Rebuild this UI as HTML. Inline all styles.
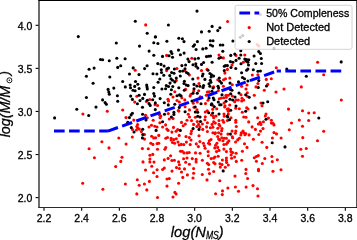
<!DOCTYPE html><html><head><meta charset="utf-8"><style>html,body{margin:0;padding:0;background:#fff;width:357px;height:240px;overflow:hidden}svg{display:block;will-change:transform}</style></head><body><svg width="357" height="240" viewBox="0 0 357 240"><rect width="357" height="240" fill="#fff"/><g fill="#ff0000"><circle cx="145.7" cy="24.9" r="1.55"/><circle cx="227.6" cy="21.5" r="1.55"/><circle cx="260.4" cy="14.6" r="1.55"/><circle cx="135.2" cy="70.3" r="1.55"/><circle cx="166.6" cy="55.4" r="1.55"/><circle cx="166.6" cy="70.6" r="1.55"/><circle cx="176.9" cy="68.5" r="1.55"/><circle cx="176.3" cy="80.6" r="1.55"/><circle cx="184.8" cy="70.6" r="1.55"/><circle cx="189.4" cy="75.0" r="1.55"/><circle cx="185.6" cy="89.4" r="1.55"/><circle cx="219.0" cy="55.1" r="1.55"/><circle cx="223.4" cy="57.9" r="1.55"/><circle cx="191.8" cy="58.3" r="1.55"/><circle cx="201.5" cy="70.6" r="1.55"/><circle cx="207.0" cy="69.4" r="1.55"/><circle cx="198.0" cy="78.1" r="1.55"/><circle cx="217.8" cy="79.8" r="1.55"/><circle cx="223.6" cy="79.8" r="1.55"/><circle cx="225.5" cy="78.8" r="1.55"/><circle cx="224.9" cy="73.1" r="1.55"/><circle cx="227.4" cy="69.4" r="1.55"/><circle cx="199.0" cy="83.5" r="1.55"/><circle cx="213.6" cy="86.9" r="1.55"/><circle cx="223.4" cy="86.3" r="1.55"/><circle cx="257.3" cy="44.5" r="1.55"/><circle cx="258.8" cy="46.0" r="1.55"/><circle cx="236.0" cy="55.4" r="1.55"/><circle cx="244.8" cy="55.0" r="1.55"/><circle cx="232.0" cy="65.0" r="1.55"/><circle cx="243.3" cy="62.3" r="1.55"/><circle cx="252.3" cy="75.0" r="1.55"/><circle cx="257.9" cy="74.8" r="1.55"/><circle cx="229.8" cy="78.1" r="1.55"/><circle cx="232.3" cy="84.8" r="1.55"/><circle cx="241.6" cy="86.3" r="1.55"/><circle cx="247.0" cy="85.0" r="1.55"/><circle cx="257.9" cy="83.5" r="1.55"/><circle cx="256.0" cy="86.9" r="1.55"/><circle cx="246.0" cy="89.0" r="1.55"/><circle cx="276.3" cy="67.8" r="1.55"/><circle cx="266.3" cy="79.4" r="1.55"/><circle cx="271.3" cy="78.8" r="1.55"/><circle cx="267.8" cy="84.4" r="1.55"/><circle cx="284.0" cy="89.0" r="1.55"/><circle cx="301.3" cy="86.9" r="1.55"/><circle cx="317.6" cy="62.2" r="1.55"/><circle cx="323.7" cy="74.7" r="1.55"/><circle cx="82.9" cy="114.0" r="1.55"/><circle cx="107.3" cy="111.3" r="1.55"/><circle cx="122.7" cy="110.0" r="1.55"/><circle cx="136.8" cy="96.3" r="1.55"/><circle cx="134.7" cy="102.1" r="1.55"/><circle cx="146.4" cy="101.5" r="1.55"/><circle cx="149.8" cy="99.5" r="1.55"/><circle cx="145.6" cy="115.2" r="1.55"/><circle cx="174.8" cy="91.8" r="1.55"/><circle cx="173.0" cy="97.0" r="1.55"/><circle cx="181.8" cy="97.8" r="1.55"/><circle cx="190.1" cy="96.1" r="1.55"/><circle cx="168.0" cy="99.3" r="1.55"/><circle cx="168.5" cy="100.9" r="1.55"/><circle cx="177.0" cy="100.5" r="1.55"/><circle cx="179.3" cy="102.0" r="1.55"/><circle cx="184.8" cy="99.9" r="1.55"/><circle cx="157.6" cy="105.5" r="1.55"/><circle cx="185.1" cy="106.8" r="1.55"/><circle cx="178.3" cy="110.5" r="1.55"/><circle cx="178.9" cy="111.1" r="1.55"/><circle cx="189.5" cy="109.9" r="1.55"/><circle cx="168.3" cy="113.6" r="1.55"/><circle cx="160.8" cy="116.1" r="1.55"/><circle cx="159.5" cy="114.9" r="1.55"/><circle cx="188.3" cy="114.3" r="1.55"/><circle cx="189.5" cy="117.0" r="1.55"/><circle cx="155.1" cy="104.8" r="1.55"/><circle cx="193.7" cy="91.0" r="1.55"/><circle cx="191.0" cy="94.3" r="1.55"/><circle cx="198.7" cy="90.7" r="1.55"/><circle cx="206.3" cy="95.3" r="1.55"/><circle cx="207.3" cy="92.0" r="1.55"/><circle cx="200.3" cy="96.7" r="1.55"/><circle cx="197.3" cy="102.0" r="1.55"/><circle cx="193.3" cy="103.3" r="1.55"/><circle cx="205.5" cy="103.6" r="1.55"/><circle cx="218.3" cy="90.7" r="1.55"/><circle cx="209.0" cy="91.7" r="1.55"/><circle cx="208.0" cy="100.3" r="1.55"/><circle cx="219.3" cy="98.7" r="1.55"/><circle cx="221.3" cy="98.0" r="1.55"/><circle cx="223.7" cy="97.7" r="1.55"/><circle cx="226.0" cy="95.3" r="1.55"/><circle cx="226.3" cy="97.3" r="1.55"/><circle cx="224.0" cy="103.0" r="1.55"/><circle cx="194.0" cy="107.3" r="1.55"/><circle cx="197.0" cy="109.7" r="1.55"/><circle cx="205.3" cy="112.0" r="1.55"/><circle cx="207.3" cy="110.7" r="1.55"/><circle cx="195.3" cy="117.3" r="1.55"/><circle cx="205.3" cy="116.7" r="1.55"/><circle cx="212.7" cy="105.3" r="1.55"/><circle cx="224.7" cy="107.0" r="1.55"/><circle cx="225.0" cy="105.7" r="1.55"/><circle cx="212.7" cy="109.3" r="1.55"/><circle cx="216.7" cy="108.7" r="1.55"/><circle cx="211.3" cy="115.0" r="1.55"/><circle cx="213.3" cy="116.0" r="1.55"/><circle cx="216.0" cy="116.0" r="1.55"/><circle cx="224.0" cy="114.0" r="1.55"/><circle cx="224.3" cy="116.3" r="1.55"/><circle cx="227.3" cy="109.3" r="1.55"/><circle cx="228.3" cy="95.3" r="1.55"/><circle cx="232.3" cy="96.0" r="1.55"/><circle cx="236.0" cy="100.0" r="1.55"/><circle cx="234.7" cy="101.7" r="1.55"/><circle cx="238.3" cy="100.0" r="1.55"/><circle cx="241.0" cy="94.7" r="1.55"/><circle cx="242.0" cy="98.3" r="1.55"/><circle cx="243.7" cy="100.0" r="1.55"/><circle cx="241.7" cy="101.0" r="1.55"/><circle cx="247.3" cy="92.7" r="1.55"/><circle cx="247.3" cy="96.3" r="1.55"/><circle cx="264.3" cy="90.3" r="1.55"/><circle cx="254.3" cy="95.2" r="1.55"/><circle cx="261.0" cy="103.0" r="1.55"/><circle cx="229.7" cy="105.0" r="1.55"/><circle cx="235.7" cy="108.3" r="1.55"/><circle cx="239.3" cy="108.7" r="1.55"/><circle cx="228.3" cy="108.7" r="1.55"/><circle cx="228.3" cy="111.3" r="1.55"/><circle cx="228.3" cy="114.0" r="1.55"/><circle cx="242.3" cy="112.3" r="1.55"/><circle cx="246.7" cy="107.7" r="1.55"/><circle cx="231.0" cy="117.7" r="1.55"/><circle cx="243.7" cy="117.0" r="1.55"/><circle cx="246.0" cy="117.3" r="1.55"/><circle cx="262.0" cy="105.7" r="1.55"/><circle cx="248.0" cy="109.0" r="1.55"/><circle cx="266.0" cy="114.0" r="1.55"/><circle cx="265.3" cy="116.0" r="1.55"/><circle cx="257.7" cy="117.7" r="1.55"/><circle cx="276.0" cy="92.0" r="1.55"/><circle cx="288.5" cy="109.1" r="1.55"/><circle cx="302.5" cy="110.8" r="1.55"/><circle cx="341.3" cy="100.0" r="1.55"/><circle cx="308.7" cy="113.0" r="1.55"/><circle cx="314.2" cy="112.8" r="1.55"/><circle cx="308.7" cy="120.5" r="1.55"/><circle cx="302.5" cy="126.3" r="1.55"/><circle cx="89.1" cy="148.7" r="1.55"/><circle cx="126.0" cy="117.6" r="1.55"/><circle cx="133.8" cy="120.1" r="1.55"/><circle cx="132.5" cy="129.5" r="1.55"/><circle cx="118.8" cy="138.0" r="1.55"/><circle cx="132.3" cy="137.0" r="1.55"/><circle cx="101.9" cy="141.8" r="1.55"/><circle cx="147.3" cy="117.8" r="1.55"/><circle cx="153.2" cy="120.3" r="1.55"/><circle cx="159.9" cy="122.8" r="1.55"/><circle cx="137.6" cy="124.5" r="1.55"/><circle cx="136.8" cy="126.6" r="1.55"/><circle cx="137.6" cy="127.9" r="1.55"/><circle cx="139.3" cy="129.1" r="1.55"/><circle cx="136.4" cy="130.0" r="1.55"/><circle cx="141.4" cy="131.6" r="1.55"/><circle cx="149.0" cy="127.0" r="1.55"/><circle cx="151.5" cy="125.3" r="1.55"/><circle cx="154.8" cy="126.2" r="1.55"/><circle cx="157.0" cy="127.0" r="1.55"/><circle cx="160.1" cy="117.8" r="1.55"/><circle cx="169.3" cy="119.0" r="1.55"/><circle cx="173.0" cy="118.6" r="1.55"/><circle cx="165.6" cy="124.9" r="1.55"/><circle cx="162.6" cy="127.0" r="1.55"/><circle cx="166.8" cy="129.1" r="1.55"/><circle cx="168.1" cy="130.4" r="1.55"/><circle cx="173.5" cy="127.4" r="1.55"/><circle cx="171.9" cy="132.1" r="1.55"/><circle cx="176.1" cy="131.2" r="1.55"/><circle cx="177.7" cy="129.5" r="1.55"/><circle cx="181.5" cy="122.4" r="1.55"/><circle cx="183.2" cy="125.8" r="1.55"/><circle cx="185.3" cy="124.1" r="1.55"/><circle cx="187.0" cy="120.3" r="1.55"/><circle cx="191.5" cy="120.6" r="1.55"/><circle cx="197.3" cy="121.5" r="1.55"/><circle cx="204.9" cy="119.8" r="1.55"/><circle cx="193.6" cy="124.4" r="1.55"/><circle cx="198.6" cy="124.4" r="1.55"/><circle cx="202.4" cy="124.0" r="1.55"/><circle cx="207.4" cy="122.7" r="1.55"/><circle cx="196.9" cy="126.5" r="1.55"/><circle cx="199.9" cy="126.9" r="1.55"/><circle cx="206.6" cy="126.9" r="1.55"/><circle cx="202.8" cy="129.4" r="1.55"/><circle cx="191.5" cy="131.1" r="1.55"/><circle cx="191.0" cy="133.6" r="1.55"/><circle cx="207.4" cy="131.5" r="1.55"/><circle cx="210.4" cy="127.8" r="1.55"/><circle cx="212.9" cy="127.3" r="1.55"/><circle cx="212.1" cy="124.4" r="1.55"/><circle cx="213.7" cy="121.9" r="1.55"/><circle cx="213.7" cy="117.7" r="1.55"/><circle cx="212.9" cy="132.8" r="1.55"/><circle cx="215.0" cy="133.6" r="1.55"/><circle cx="199.0" cy="135.7" r="1.55"/><circle cx="227.4" cy="120.6" r="1.55"/><circle cx="222.8" cy="120.2" r="1.55"/><circle cx="223.7" cy="122.3" r="1.55"/><circle cx="219.0" cy="120.6" r="1.55"/><circle cx="215.3" cy="123.1" r="1.55"/><circle cx="219.0" cy="124.4" r="1.55"/><circle cx="219.9" cy="126.1" r="1.55"/><circle cx="217.8" cy="128.2" r="1.55"/><circle cx="222.0" cy="128.6" r="1.55"/><circle cx="221.6" cy="130.7" r="1.55"/><circle cx="215.3" cy="132.8" r="1.55"/><circle cx="218.6" cy="132.8" r="1.55"/><circle cx="221.1" cy="134.1" r="1.55"/><circle cx="235.8" cy="120.2" r="1.55"/><circle cx="235.8" cy="122.3" r="1.55"/><circle cx="236.3" cy="126.5" r="1.55"/><circle cx="232.1" cy="131.1" r="1.55"/><circle cx="235.8" cy="131.1" r="1.55"/><circle cx="235.4" cy="133.2" r="1.55"/><circle cx="227.9" cy="134.1" r="1.55"/><circle cx="241.3" cy="132.8" r="1.55"/><circle cx="243.0" cy="131.1" r="1.55"/><circle cx="240.9" cy="134.9" r="1.55"/><circle cx="268.5" cy="118.1" r="1.55"/><circle cx="271.4" cy="120.2" r="1.55"/><circle cx="248.7" cy="121.9" r="1.55"/><circle cx="260.1" cy="122.3" r="1.55"/><circle cx="263.4" cy="121.7" r="1.55"/><circle cx="258.4" cy="124.0" r="1.55"/><circle cx="260.9" cy="124.4" r="1.55"/><circle cx="252.1" cy="126.9" r="1.55"/><circle cx="255.4" cy="129.4" r="1.55"/><circle cx="263.0" cy="128.6" r="1.55"/><circle cx="260.5" cy="131.1" r="1.55"/><circle cx="243.7" cy="132.8" r="1.55"/><circle cx="245.8" cy="133.6" r="1.55"/><circle cx="249.1" cy="134.9" r="1.55"/><circle cx="258.8" cy="134.5" r="1.55"/><circle cx="271.4" cy="123.1" r="1.55"/><circle cx="273.0" cy="123.3" r="1.55"/><circle cx="274.0" cy="124.9" r="1.55"/><circle cx="291.5" cy="123.0" r="1.55"/><circle cx="299.3" cy="120.1" r="1.55"/><circle cx="289.3" cy="129.8" r="1.55"/><circle cx="274.0" cy="132.6" r="1.55"/><circle cx="276.5" cy="133.9" r="1.55"/><circle cx="272.4" cy="138.0" r="1.55"/><circle cx="281.1" cy="138.0" r="1.55"/><circle cx="302.8" cy="137.6" r="1.55"/><circle cx="323.7" cy="131.3" r="1.55"/><circle cx="317.5" cy="140.7" r="1.55"/><circle cx="306.3" cy="148.5" r="1.55"/><circle cx="300.8" cy="149.3" r="1.55"/><circle cx="302.5" cy="156.3" r="1.55"/><circle cx="94.4" cy="157.7" r="1.55"/><circle cx="82.7" cy="183.3" r="1.55"/><circle cx="109.0" cy="147.9" r="1.55"/><circle cx="126.1" cy="144.1" r="1.55"/><circle cx="122.0" cy="157.3" r="1.55"/><circle cx="120.8" cy="161.4" r="1.55"/><circle cx="144.5" cy="134.5" r="1.55"/><circle cx="144.5" cy="139.1" r="1.55"/><circle cx="151.6" cy="136.2" r="1.55"/><circle cx="153.7" cy="137.9" r="1.55"/><circle cx="155.7" cy="137.7" r="1.55"/><circle cx="158.8" cy="135.4" r="1.55"/><circle cx="150.8" cy="143.3" r="1.55"/><circle cx="152.9" cy="144.4" r="1.55"/><circle cx="157.1" cy="143.6" r="1.55"/><circle cx="158.8" cy="143.3" r="1.55"/><circle cx="142.4" cy="148.6" r="1.55"/><circle cx="148.3" cy="148.8" r="1.55"/><circle cx="157.5" cy="149.2" r="1.55"/><circle cx="179.2" cy="135.4" r="1.55"/><circle cx="186.0" cy="136.6" r="1.55"/><circle cx="189.3" cy="137.5" r="1.55"/><circle cx="191.0" cy="140.0" r="1.55"/><circle cx="165.8" cy="138.3" r="1.55"/><circle cx="167.5" cy="137.5" r="1.55"/><circle cx="171.2" cy="138.3" r="1.55"/><circle cx="171.2" cy="140.0" r="1.55"/><circle cx="173.8" cy="139.6" r="1.55"/><circle cx="176.3" cy="138.7" r="1.55"/><circle cx="172.5" cy="142.5" r="1.55"/><circle cx="174.6" cy="143.3" r="1.55"/><circle cx="178.0" cy="142.1" r="1.55"/><circle cx="179.2" cy="145.0" r="1.55"/><circle cx="181.3" cy="144.4" r="1.55"/><circle cx="183.8" cy="144.6" r="1.55"/><circle cx="186.4" cy="142.1" r="1.55"/><circle cx="190.2" cy="144.6" r="1.55"/><circle cx="165.8" cy="147.5" r="1.55"/><circle cx="164.9" cy="149.2" r="1.55"/><circle cx="180.5" cy="151.3" r="1.55"/><circle cx="182.2" cy="151.3" r="1.55"/><circle cx="189.2" cy="152.5" r="1.55"/><circle cx="199.9" cy="141.6" r="1.55"/><circle cx="196.3" cy="143.9" r="1.55"/><circle cx="198.4" cy="146.6" r="1.55"/><circle cx="203.4" cy="143.2" r="1.55"/><circle cx="204.3" cy="145.8" r="1.55"/><circle cx="205.1" cy="148.3" r="1.55"/><circle cx="209.3" cy="140.7" r="1.55"/><circle cx="211.0" cy="139.5" r="1.55"/><circle cx="208.5" cy="143.2" r="1.55"/><circle cx="209.7" cy="144.1" r="1.55"/><circle cx="208.1" cy="151.6" r="1.55"/><circle cx="195.5" cy="152.9" r="1.55"/><circle cx="200.1" cy="153.2" r="1.55"/><circle cx="217.7" cy="136.5" r="1.55"/><circle cx="218.6" cy="139.0" r="1.55"/><circle cx="216.9" cy="143.2" r="1.55"/><circle cx="215.6" cy="145.3" r="1.55"/><circle cx="214.8" cy="147.9" r="1.55"/><circle cx="217.7" cy="147.4" r="1.55"/><circle cx="216.5" cy="151.6" r="1.55"/><circle cx="219.0" cy="150.4" r="1.55"/><circle cx="221.8" cy="137.8" r="1.55"/><circle cx="219.7" cy="139.9" r="1.55"/><circle cx="224.3" cy="138.2" r="1.55"/><circle cx="226.4" cy="138.2" r="1.55"/><circle cx="223.0" cy="140.7" r="1.55"/><circle cx="228.9" cy="140.7" r="1.55"/><circle cx="227.7" cy="142.4" r="1.55"/><circle cx="223.9" cy="144.5" r="1.55"/><circle cx="226.4" cy="144.1" r="1.55"/><circle cx="232.3" cy="136.9" r="1.55"/><circle cx="232.7" cy="137.8" r="1.55"/><circle cx="239.4" cy="138.2" r="1.55"/><circle cx="237.7" cy="139.9" r="1.55"/><circle cx="235.6" cy="142.0" r="1.55"/><circle cx="244.9" cy="134.8" r="1.55"/><circle cx="244.5" cy="143.7" r="1.55"/><circle cx="247.0" cy="147.4" r="1.55"/><circle cx="223.9" cy="149.1" r="1.55"/><circle cx="226.4" cy="151.6" r="1.55"/><circle cx="230.6" cy="149.1" r="1.55"/><circle cx="231.0" cy="151.6" r="1.55"/><circle cx="232.7" cy="152.5" r="1.55"/><circle cx="236.1" cy="153.3" r="1.55"/><circle cx="242.4" cy="151.2" r="1.55"/><circle cx="253.4" cy="139.2" r="1.55"/><circle cx="262.1" cy="142.2" r="1.55"/><circle cx="266.8" cy="147.4" r="1.55"/><circle cx="271.9" cy="156.5" r="1.55"/><circle cx="277.3" cy="159.8" r="1.55"/><circle cx="272.3" cy="161.6" r="1.55"/><circle cx="115.7" cy="166.6" r="1.55"/><circle cx="102.9" cy="189.2" r="1.55"/><circle cx="125.4" cy="184.0" r="1.55"/><circle cx="137.3" cy="179.7" r="1.55"/><circle cx="139.2" cy="185.2" r="1.55"/><circle cx="144.4" cy="184.0" r="1.55"/><circle cx="149.4" cy="181.4" r="1.55"/><circle cx="146.8" cy="189.9" r="1.55"/><circle cx="136.8" cy="193.9" r="1.55"/><circle cx="157.5" cy="197.5" r="1.55"/><circle cx="143.0" cy="161.9" r="1.55"/><circle cx="149.9" cy="155.3" r="1.55"/><circle cx="152.8" cy="154.4" r="1.55"/><circle cx="149.9" cy="159.0" r="1.55"/><circle cx="149.9" cy="161.9" r="1.55"/><circle cx="154.0" cy="162.1" r="1.55"/><circle cx="145.5" cy="170.0" r="1.55"/><circle cx="151.8" cy="166.2" r="1.55"/><circle cx="157.1" cy="169.8" r="1.55"/><circle cx="153.6" cy="172.8" r="1.55"/><circle cx="157.0" cy="176.5" r="1.55"/><circle cx="184.0" cy="152.9" r="1.55"/><circle cx="187.0" cy="152.9" r="1.55"/><circle cx="170.6" cy="155.7" r="1.55"/><circle cx="168.1" cy="158.4" r="1.55"/><circle cx="164.3" cy="159.9" r="1.55"/><circle cx="171.9" cy="160.5" r="1.55"/><circle cx="174.4" cy="160.3" r="1.55"/><circle cx="178.6" cy="161.9" r="1.55"/><circle cx="179.4" cy="164.7" r="1.55"/><circle cx="183.6" cy="158.8" r="1.55"/><circle cx="187.0" cy="158.0" r="1.55"/><circle cx="185.7" cy="162.2" r="1.55"/><circle cx="164.3" cy="168.1" r="1.55"/><circle cx="162.6" cy="169.5" r="1.55"/><circle cx="176.5" cy="167.6" r="1.55"/><circle cx="179.4" cy="168.5" r="1.55"/><circle cx="184.5" cy="168.9" r="1.55"/><circle cx="208.3" cy="155.8" r="1.55"/><circle cx="192.3" cy="158.6" r="1.55"/><circle cx="196.1" cy="159.4" r="1.55"/><circle cx="196.1" cy="161.9" r="1.55"/><circle cx="202.4" cy="160.2" r="1.55"/><circle cx="211.2" cy="158.6" r="1.55"/><circle cx="213.7" cy="158.1" r="1.55"/><circle cx="215.0" cy="157.0" r="1.55"/><circle cx="189.4" cy="164.2" r="1.55"/><circle cx="207.4" cy="163.3" r="1.55"/><circle cx="208.7" cy="164.6" r="1.55"/><circle cx="213.7" cy="162.5" r="1.55"/><circle cx="215.0" cy="163.8" r="1.55"/><circle cx="193.6" cy="168.6" r="1.55"/><circle cx="208.5" cy="169.2" r="1.55"/><circle cx="213.7" cy="171.5" r="1.55"/><circle cx="231.2" cy="154.9" r="1.55"/><circle cx="234.6" cy="157.0" r="1.55"/><circle cx="231.6" cy="158.3" r="1.55"/><circle cx="218.2" cy="156.2" r="1.55"/><circle cx="222.4" cy="160.0" r="1.55"/><circle cx="226.4" cy="158.1" r="1.55"/><circle cx="226.4" cy="160.4" r="1.55"/><circle cx="226.6" cy="162.5" r="1.55"/><circle cx="236.3" cy="161.4" r="1.55"/><circle cx="241.7" cy="160.2" r="1.55"/><circle cx="219.9" cy="163.8" r="1.55"/><circle cx="222.0" cy="164.6" r="1.55"/><circle cx="228.3" cy="165.0" r="1.55"/><circle cx="220.3" cy="167.1" r="1.55"/><circle cx="225.3" cy="167.3" r="1.55"/><circle cx="254.3" cy="157.8" r="1.55"/><circle cx="256.4" cy="156.5" r="1.55"/><circle cx="258.3" cy="155.6" r="1.55"/><circle cx="256.4" cy="161.3" r="1.55"/><circle cx="264.8" cy="158.5" r="1.55"/><circle cx="262.3" cy="163.5" r="1.55"/><circle cx="246.0" cy="169.4" r="1.55"/><circle cx="245.8" cy="173.5" r="1.55"/><circle cx="258.5" cy="169.4" r="1.55"/><circle cx="258.5" cy="170.8" r="1.55"/><circle cx="273.0" cy="171.3" r="1.55"/><circle cx="281.0" cy="169.8" r="1.55"/><circle cx="247.6" cy="178.5" r="1.55"/><circle cx="172.0" cy="171.1" r="1.55"/><circle cx="181.5" cy="172.0" r="1.55"/><circle cx="187.4" cy="174.9" r="1.55"/><circle cx="193.6" cy="173.3" r="1.55"/><circle cx="193.0" cy="178.0" r="1.55"/><circle cx="182.8" cy="177.4" r="1.55"/><circle cx="167.0" cy="179.0" r="1.55"/><circle cx="169.3" cy="178.6" r="1.55"/><circle cx="178.6" cy="183.3" r="1.55"/><circle cx="167.0" cy="186.1" r="1.55"/><circle cx="174.9" cy="192.4" r="1.55"/><circle cx="176.1" cy="194.0" r="1.55"/><circle cx="173.0" cy="197.0" r="1.55"/><circle cx="202.3" cy="174.5" r="1.55"/><circle cx="209.5" cy="173.6" r="1.55"/><circle cx="207.0" cy="179.9" r="1.55"/><circle cx="219.8" cy="180.8" r="1.55"/><circle cx="235.0" cy="176.1" r="1.55"/><circle cx="235.4" cy="187.0" r="1.55"/><circle cx="227.9" cy="188.0" r="1.55"/><circle cx="222.5" cy="190.9" r="1.55"/><circle cx="215.6" cy="193.8" r="1.55"/><circle cx="222.3" cy="194.6" r="1.55"/><circle cx="238.5" cy="191.3" r="1.55"/><circle cx="246.1" cy="187.1" r="1.55"/><circle cx="253.0" cy="185.6" r="1.55"/><circle cx="257.5" cy="188.8" r="1.55"/><circle cx="258.0" cy="196.0" r="1.55"/></g><g fill="#000"><circle cx="78.3" cy="36.6" r="1.55"/><circle cx="135.3" cy="21.3" r="1.55"/><circle cx="147.2" cy="33.3" r="1.55"/><circle cx="155.5" cy="36.8" r="1.55"/><circle cx="197.0" cy="11.1" r="1.55"/><circle cx="168.4" cy="25.0" r="1.55"/><circle cx="201.5" cy="31.9" r="1.55"/><circle cx="209.2" cy="31.3" r="1.55"/><circle cx="212.1" cy="26.4" r="1.55"/><circle cx="217.8" cy="30.6" r="1.55"/><circle cx="219.9" cy="27.7" r="1.55"/><circle cx="178.8" cy="38.3" r="1.55"/><circle cx="182.4" cy="38.8" r="1.55"/><circle cx="240.2" cy="37.3" r="1.55"/><circle cx="242.7" cy="35.6" r="1.55"/><circle cx="89.1" cy="69.3" r="1.55"/><circle cx="94.1" cy="68.1" r="1.55"/><circle cx="86.4" cy="76.3" r="1.55"/><circle cx="116.3" cy="43.0" r="1.55"/><circle cx="139.5" cy="46.1" r="1.55"/><circle cx="153.8" cy="42.7" r="1.55"/><circle cx="149.1" cy="51.1" r="1.55"/><circle cx="153.8" cy="55.3" r="1.55"/><circle cx="100.5" cy="59.5" r="1.55"/><circle cx="102.6" cy="59.8" r="1.55"/><circle cx="109.3" cy="60.7" r="1.55"/><circle cx="116.8" cy="58.3" r="1.55"/><circle cx="125.1" cy="58.7" r="1.55"/><circle cx="117.7" cy="67.4" r="1.55"/><circle cx="120.7" cy="65.7" r="1.55"/><circle cx="133.2" cy="67.9" r="1.55"/><circle cx="129.5" cy="74.0" r="1.55"/><circle cx="139.0" cy="74.6" r="1.55"/><circle cx="144.6" cy="68.6" r="1.55"/><circle cx="147.1" cy="65.7" r="1.55"/><circle cx="153.0" cy="73.8" r="1.55"/><circle cx="109.8" cy="77.0" r="1.55"/><circle cx="155.3" cy="37.0" r="1.55"/><circle cx="157.9" cy="43.5" r="1.55"/><circle cx="166.9" cy="41.3" r="1.55"/><circle cx="184.0" cy="41.6" r="1.55"/><circle cx="162.5" cy="56.4" r="1.55"/><circle cx="169.0" cy="55.8" r="1.55"/><circle cx="171.0" cy="51.6" r="1.55"/><circle cx="171.9" cy="53.5" r="1.55"/><circle cx="172.5" cy="57.3" r="1.55"/><circle cx="178.5" cy="50.1" r="1.55"/><circle cx="180.4" cy="54.8" r="1.55"/><circle cx="184.1" cy="53.1" r="1.55"/><circle cx="187.9" cy="59.1" r="1.55"/><circle cx="189.1" cy="61.6" r="1.55"/><circle cx="157.8" cy="63.6" r="1.55"/><circle cx="161.0" cy="64.4" r="1.55"/><circle cx="164.1" cy="66.0" r="1.55"/><circle cx="166.9" cy="68.8" r="1.55"/><circle cx="168.5" cy="68.1" r="1.55"/><circle cx="161.3" cy="69.8" r="1.55"/><circle cx="161.5" cy="72.5" r="1.55"/><circle cx="156.9" cy="74.0" r="1.55"/><circle cx="163.8" cy="75.3" r="1.55"/><circle cx="159.8" cy="79.0" r="1.55"/><circle cx="158.1" cy="82.3" r="1.55"/><circle cx="153.8" cy="87.5" r="1.55"/><circle cx="174.4" cy="69.0" r="1.55"/><circle cx="171.6" cy="72.5" r="1.55"/><circle cx="174.0" cy="73.3" r="1.55"/><circle cx="169.8" cy="75.6" r="1.55"/><circle cx="171.0" cy="78.8" r="1.55"/><circle cx="172.5" cy="80.3" r="1.55"/><circle cx="176.3" cy="78.1" r="1.55"/><circle cx="174.8" cy="81.9" r="1.55"/><circle cx="170.0" cy="83.1" r="1.55"/><circle cx="166.3" cy="85.6" r="1.55"/><circle cx="168.5" cy="86.5" r="1.55"/><circle cx="172.8" cy="86.5" r="1.55"/><circle cx="165.6" cy="88.8" r="1.55"/><circle cx="161.9" cy="89.0" r="1.55"/><circle cx="178.8" cy="87.8" r="1.55"/><circle cx="180.0" cy="71.3" r="1.55"/><circle cx="182.8" cy="71.0" r="1.55"/><circle cx="180.3" cy="76.0" r="1.55"/><circle cx="181.9" cy="65.6" r="1.55"/><circle cx="185.6" cy="65.0" r="1.55"/><circle cx="185.0" cy="68.8" r="1.55"/><circle cx="186.5" cy="72.5" r="1.55"/><circle cx="188.1" cy="73.5" r="1.55"/><circle cx="184.4" cy="81.3" r="1.55"/><circle cx="184.0" cy="83.5" r="1.55"/><circle cx="186.3" cy="85.0" r="1.55"/><circle cx="188.1" cy="85.6" r="1.55"/><circle cx="197.4" cy="41.6" r="1.55"/><circle cx="194.5" cy="44.8" r="1.55"/><circle cx="193.3" cy="46.3" r="1.55"/><circle cx="196.1" cy="49.5" r="1.55"/><circle cx="202.8" cy="48.9" r="1.55"/><circle cx="206.1" cy="48.3" r="1.55"/><circle cx="210.3" cy="40.8" r="1.55"/><circle cx="213.0" cy="40.8" r="1.55"/><circle cx="210.5" cy="45.0" r="1.55"/><circle cx="212.6" cy="46.0" r="1.55"/><circle cx="220.3" cy="45.0" r="1.55"/><circle cx="222.8" cy="45.0" r="1.55"/><circle cx="222.8" cy="51.3" r="1.55"/><circle cx="219.0" cy="58.3" r="1.55"/><circle cx="220.8" cy="57.5" r="1.55"/><circle cx="206.5" cy="56.6" r="1.55"/><circle cx="208.6" cy="56.3" r="1.55"/><circle cx="210.5" cy="56.0" r="1.55"/><circle cx="194.9" cy="58.9" r="1.55"/><circle cx="198.4" cy="58.3" r="1.55"/><circle cx="193.0" cy="64.8" r="1.55"/><circle cx="195.8" cy="63.8" r="1.55"/><circle cx="196.1" cy="66.3" r="1.55"/><circle cx="197.8" cy="68.1" r="1.55"/><circle cx="201.5" cy="64.4" r="1.55"/><circle cx="203.6" cy="62.5" r="1.55"/><circle cx="212.1" cy="62.3" r="1.55"/><circle cx="208.0" cy="70.3" r="1.55"/><circle cx="203.0" cy="74.0" r="1.55"/><circle cx="202.4" cy="76.0" r="1.55"/><circle cx="209.9" cy="73.5" r="1.55"/><circle cx="211.5" cy="74.8" r="1.55"/><circle cx="213.6" cy="76.0" r="1.55"/><circle cx="211.1" cy="76.9" r="1.55"/><circle cx="192.8" cy="79.0" r="1.55"/><circle cx="204.9" cy="79.4" r="1.55"/><circle cx="210.3" cy="80.3" r="1.55"/><circle cx="210.9" cy="82.3" r="1.55"/><circle cx="209.0" cy="83.8" r="1.55"/><circle cx="219.3" cy="78.1" r="1.55"/><circle cx="219.9" cy="81.3" r="1.55"/><circle cx="221.5" cy="83.1" r="1.55"/><circle cx="224.3" cy="70.6" r="1.55"/><circle cx="224.3" cy="66.3" r="1.55"/><circle cx="225.5" cy="65.6" r="1.55"/><circle cx="227.4" cy="65.6" r="1.55"/><circle cx="194.0" cy="84.4" r="1.55"/><circle cx="196.8" cy="86.0" r="1.55"/><circle cx="199.9" cy="86.3" r="1.55"/><circle cx="203.6" cy="85.6" r="1.55"/><circle cx="203.0" cy="87.5" r="1.55"/><circle cx="209.9" cy="86.3" r="1.55"/><circle cx="218.0" cy="86.3" r="1.55"/><circle cx="218.6" cy="88.1" r="1.55"/><circle cx="194.0" cy="88.8" r="1.55"/><circle cx="232.9" cy="41.0" r="1.55"/><circle cx="240.8" cy="50.8" r="1.55"/><circle cx="258.8" cy="51.6" r="1.55"/><circle cx="260.4" cy="53.5" r="1.55"/><circle cx="230.8" cy="55.4" r="1.55"/><circle cx="234.8" cy="54.1" r="1.55"/><circle cx="240.8" cy="55.0" r="1.55"/><circle cx="254.1" cy="56.0" r="1.55"/><circle cx="239.1" cy="58.3" r="1.55"/><circle cx="236.0" cy="60.4" r="1.55"/><circle cx="244.8" cy="59.1" r="1.55"/><circle cx="246.6" cy="59.5" r="1.55"/><circle cx="248.8" cy="59.8" r="1.55"/><circle cx="246.0" cy="61.0" r="1.55"/><circle cx="261.3" cy="58.5" r="1.55"/><circle cx="230.4" cy="61.6" r="1.55"/><circle cx="232.9" cy="62.3" r="1.55"/><circle cx="231.0" cy="67.5" r="1.55"/><circle cx="235.8" cy="68.5" r="1.55"/><circle cx="241.0" cy="63.8" r="1.55"/><circle cx="247.9" cy="62.3" r="1.55"/><circle cx="248.5" cy="65.0" r="1.55"/><circle cx="255.8" cy="63.5" r="1.55"/><circle cx="261.6" cy="63.5" r="1.55"/><circle cx="247.9" cy="69.0" r="1.55"/><circle cx="246.6" cy="70.3" r="1.55"/><circle cx="253.3" cy="69.8" r="1.55"/><circle cx="257.9" cy="71.3" r="1.55"/><circle cx="260.4" cy="71.0" r="1.55"/><circle cx="241.6" cy="72.8" r="1.55"/><circle cx="242.5" cy="77.5" r="1.55"/><circle cx="244.5" cy="78.8" r="1.55"/><circle cx="247.9" cy="81.0" r="1.55"/><circle cx="258.8" cy="80.6" r="1.55"/><circle cx="230.0" cy="83.1" r="1.55"/><circle cx="238.5" cy="81.9" r="1.55"/><circle cx="258.3" cy="87.5" r="1.55"/><circle cx="230.4" cy="89.4" r="1.55"/><circle cx="274.0" cy="48.4" r="1.55"/><circle cx="286.8" cy="69.0" r="1.55"/><circle cx="266.5" cy="86.0" r="1.55"/><circle cx="341.2" cy="61.9" r="1.55"/><circle cx="306.3" cy="76.2" r="1.55"/><circle cx="93.1" cy="83.2" r="1.55"/><circle cx="86.4" cy="97.5" r="1.55"/><circle cx="96.0" cy="107.1" r="1.55"/><circle cx="76.8" cy="109.3" r="1.55"/><circle cx="88.7" cy="115.5" r="1.55"/><circle cx="122.7" cy="81.5" r="1.55"/><circle cx="125.3" cy="86.9" r="1.55"/><circle cx="113.8" cy="88.1" r="1.55"/><circle cx="108.1" cy="89.4" r="1.55"/><circle cx="108.8" cy="92.0" r="1.55"/><circle cx="109.3" cy="94.2" r="1.55"/><circle cx="117.4" cy="95.8" r="1.55"/><circle cx="117.7" cy="101.2" r="1.55"/><circle cx="102.6" cy="99.9" r="1.55"/><circle cx="105.1" cy="102.6" r="1.55"/><circle cx="106.4" cy="104.2" r="1.55"/><circle cx="135.5" cy="81.5" r="1.55"/><circle cx="137.8" cy="84.3" r="1.55"/><circle cx="130.2" cy="85.1" r="1.55"/><circle cx="130.5" cy="87.7" r="1.55"/><circle cx="134.7" cy="86.4" r="1.55"/><circle cx="133.0" cy="90.2" r="1.55"/><circle cx="135.1" cy="90.8" r="1.55"/><circle cx="139.1" cy="88.5" r="1.55"/><circle cx="146.7" cy="85.1" r="1.55"/><circle cx="147.0" cy="87.1" r="1.55"/><circle cx="147.3" cy="88.9" r="1.55"/><circle cx="144.5" cy="94.4" r="1.55"/><circle cx="139.1" cy="95.2" r="1.55"/><circle cx="130.7" cy="96.1" r="1.55"/><circle cx="153.8" cy="93.5" r="1.55"/><circle cx="132.4" cy="99.4" r="1.55"/><circle cx="142.8" cy="98.4" r="1.55"/><circle cx="140.0" cy="100.6" r="1.55"/><circle cx="137.4" cy="103.7" r="1.55"/><circle cx="142.5" cy="107.3" r="1.55"/><circle cx="147.3" cy="100.2" r="1.55"/><circle cx="152.7" cy="99.8" r="1.55"/><circle cx="149.0" cy="103.6" r="1.55"/><circle cx="150.2" cy="105.4" r="1.55"/><circle cx="132.4" cy="113.2" r="1.55"/><circle cx="131.1" cy="114.9" r="1.55"/><circle cx="142.6" cy="114.3" r="1.55"/><circle cx="171.4" cy="89.8" r="1.55"/><circle cx="184.3" cy="90.3" r="1.55"/><circle cx="154.5" cy="96.1" r="1.55"/><circle cx="160.1" cy="98.6" r="1.55"/><circle cx="170.8" cy="94.3" r="1.55"/><circle cx="177.0" cy="95.8" r="1.55"/><circle cx="179.5" cy="94.9" r="1.55"/><circle cx="181.0" cy="95.8" r="1.55"/><circle cx="164.3" cy="102.8" r="1.55"/><circle cx="168.3" cy="104.9" r="1.55"/><circle cx="174.8" cy="104.3" r="1.55"/><circle cx="179.3" cy="107.4" r="1.55"/><circle cx="185.1" cy="111.8" r="1.55"/><circle cx="173.9" cy="112.4" r="1.55"/><circle cx="173.9" cy="114.5" r="1.55"/><circle cx="164.5" cy="114.3" r="1.55"/><circle cx="171.4" cy="117.0" r="1.55"/><circle cx="155.3" cy="102.9" r="1.55"/><circle cx="155.3" cy="109.6" r="1.55"/><circle cx="193.0" cy="93.3" r="1.55"/><circle cx="197.3" cy="93.3" r="1.55"/><circle cx="192.0" cy="101.0" r="1.55"/><circle cx="201.0" cy="103.7" r="1.55"/><circle cx="213.0" cy="88.0" r="1.55"/><circle cx="212.0" cy="91.3" r="1.55"/><circle cx="222.0" cy="94.7" r="1.55"/><circle cx="209.0" cy="98.0" r="1.55"/><circle cx="213.3" cy="98.0" r="1.55"/><circle cx="214.0" cy="99.7" r="1.55"/><circle cx="218.3" cy="102.0" r="1.55"/><circle cx="226.0" cy="101.3" r="1.55"/><circle cx="211.7" cy="103.7" r="1.55"/><circle cx="195.2" cy="107.0" r="1.55"/><circle cx="195.3" cy="112.0" r="1.55"/><circle cx="197.7" cy="112.3" r="1.55"/><circle cx="197.7" cy="116.3" r="1.55"/><circle cx="200.0" cy="117.0" r="1.55"/><circle cx="211.3" cy="104.7" r="1.55"/><circle cx="214.3" cy="106.7" r="1.55"/><circle cx="219.7" cy="104.7" r="1.55"/><circle cx="221.0" cy="104.7" r="1.55"/><circle cx="208.7" cy="112.7" r="1.55"/><circle cx="212.7" cy="113.0" r="1.55"/><circle cx="219.0" cy="114.0" r="1.55"/><circle cx="227.3" cy="116.0" r="1.55"/><circle cx="232.0" cy="90.3" r="1.55"/><circle cx="230.7" cy="93.7" r="1.55"/><circle cx="235.0" cy="97.0" r="1.55"/><circle cx="230.0" cy="99.3" r="1.55"/><circle cx="232.7" cy="100.0" r="1.55"/><circle cx="239.0" cy="93.0" r="1.55"/><circle cx="245.7" cy="94.7" r="1.55"/><circle cx="249.2" cy="97.3" r="1.55"/><circle cx="263.0" cy="103.0" r="1.55"/><circle cx="267.7" cy="101.7" r="1.55"/><circle cx="236.0" cy="106.0" r="1.55"/><circle cx="230.7" cy="110.3" r="1.55"/><circle cx="245.7" cy="111.3" r="1.55"/><circle cx="227.7" cy="117.0" r="1.55"/><circle cx="255.2" cy="107.9" r="1.55"/><circle cx="318.8" cy="118.0" r="1.55"/><circle cx="54.6" cy="117.9" r="1.55"/><circle cx="129.4" cy="117.6" r="1.55"/><circle cx="127.8" cy="122.3" r="1.55"/><circle cx="131.3" cy="127.6" r="1.55"/><circle cx="134.0" cy="132.0" r="1.55"/><circle cx="146.0" cy="119.9" r="1.55"/><circle cx="142.7" cy="129.3" r="1.55"/><circle cx="156.1" cy="130.4" r="1.55"/><circle cx="162.6" cy="121.7" r="1.55"/><circle cx="180.3" cy="130.4" r="1.55"/><circle cx="200.5" cy="121.5" r="1.55"/><circle cx="193.1" cy="128.6" r="1.55"/><circle cx="199.0" cy="129.4" r="1.55"/><circle cx="229.5" cy="119.8" r="1.55"/><circle cx="230.4" cy="134.1" r="1.55"/><circle cx="266.0" cy="119.2" r="1.55"/><circle cx="142.8" cy="134.5" r="1.55"/><circle cx="142.4" cy="137.9" r="1.55"/><circle cx="272.2" cy="142.8" r="1.55"/><circle cx="285.0" cy="146.9" r="1.55"/><circle cx="223.2" cy="170.9" r="1.55"/></g><g fill="none" stroke="#0000ff" stroke-width="3" stroke-dasharray="10.65 4.42"><line x1="54" y1="131.1" x2="107.9" y2="131.1"/><line x1="107.9" y1="131.1" x2="276.7" y2="71.1"/><line x1="341.2" y1="71.1" x2="276.7" y2="71.1"/></g><g stroke="#000" stroke-width="1.15"><line x1="38.4" y1="0.45" x2="357.5" y2="0.45"/><line x1="39" y1="0" x2="39" y2="207.9"/><line x1="38.4" y1="207.45" x2="357.5" y2="207.45" stroke="#2a2a2a"/><line x1="356.9" y1="0" x2="356.9" y2="207.9"/></g><g stroke="#000" stroke-width="1.1"><line x1="44.00" y1="207.9" x2="44.00" y2="210.8"/><line x1="81.67" y1="207.9" x2="81.67" y2="210.8"/><line x1="119.34" y1="207.9" x2="119.34" y2="210.8"/><line x1="157.00" y1="207.9" x2="157.00" y2="210.8"/><line x1="194.67" y1="207.9" x2="194.67" y2="210.8"/><line x1="232.34" y1="207.9" x2="232.34" y2="210.8"/><line x1="270.01" y1="207.9" x2="270.01" y2="210.8"/><line x1="307.68" y1="207.9" x2="307.68" y2="210.8"/><line x1="345.34" y1="207.9" x2="345.34" y2="210.8"/><line x1="35.6" y1="25.30" x2="38.5" y2="25.30"/><line x1="35.6" y1="68.38" x2="38.5" y2="68.38"/><line x1="35.6" y1="111.45" x2="38.5" y2="111.45"/><line x1="35.6" y1="154.53" x2="38.5" y2="154.53"/><line x1="35.6" y1="197.60" x2="38.5" y2="197.60"/></g><g font-family="Liberation Sans, sans-serif" font-size="10.5" fill="#000" stroke="#000" stroke-width="0.3"><text x="44.00" y="221.8" text-anchor="middle">2.2</text><text x="81.67" y="221.8" text-anchor="middle">2.4</text><text x="119.34" y="221.8" text-anchor="middle">2.6</text><text x="157.00" y="221.8" text-anchor="middle">2.8</text><text x="194.67" y="221.8" text-anchor="middle">3.0</text><text x="232.34" y="221.8" text-anchor="middle">3.2</text><text x="270.01" y="221.8" text-anchor="middle">3.4</text><text x="307.68" y="221.8" text-anchor="middle">3.6</text><text x="345.34" y="221.8" text-anchor="middle">3.8</text><text x="32.4" y="30.15" text-anchor="end">4.0</text><text x="32.4" y="73.22" text-anchor="end">3.5</text><text x="32.4" y="116.30" text-anchor="end">3.0</text><text x="32.4" y="159.38" text-anchor="end">2.5</text><text x="32.4" y="202.45" text-anchor="end">2.0</text></g><text transform="translate(170.8,236.8) scale(1.05,1)" font-family="Liberation Sans, sans-serif" font-size="14" font-style="italic" stroke="#000" stroke-width="0.25">log(N<tspan font-size="10.2" dy="1.9" textLength="12.3" lengthAdjust="spacingAndGlyphs">MS</tspan><tspan dy="-1.9">)</tspan></text><text transform="translate(10.3,137.3) rotate(-90) scale(1.02,1)" font-family="Liberation Sans, sans-serif" font-size="14" font-style="italic" stroke="#000" stroke-width="0.25">log(M/M</text><circle cx="9.4" cy="80.3" r="2.5" fill="none" stroke="#000" stroke-width="0.9"/><circle cx="9.4" cy="80.3" r="0.75" fill="#000"/><text transform="translate(9.2,75.3) rotate(-90)" font-family="Liberation Sans, sans-serif" font-size="12" font-style="italic" stroke="#000" stroke-width="0.25">)</text><rect x="235.1" y="5.3" width="116.9" height="44" rx="2" ry="2" fill="#fff" fill-opacity="0.8" stroke="#d4d4d4" stroke-width="1"/><line x1="239.4" y1="13.1" x2="259.2" y2="13.1" stroke="#0000ff" stroke-width="3" stroke-dasharray="10.7 4.4"/><circle cx="249.2" cy="27.6" r="1.6" fill="#ff0000"/><circle cx="249.2" cy="41.5" r="1.6" fill="#000"/><g font-family="Liberation Sans, sans-serif" font-size="10.5" fill="#000" stroke="#000" stroke-width="0.3"><text x="266.2" y="16.9" textLength="83" lengthAdjust="spacingAndGlyphs">50% Compleness</text><text x="266.2" y="30.7" textLength="64" lengthAdjust="spacingAndGlyphs">Not Detected</text><text x="266.2" y="44.5" textLength="44" lengthAdjust="spacingAndGlyphs">Detected</text></g></svg></body></html>
